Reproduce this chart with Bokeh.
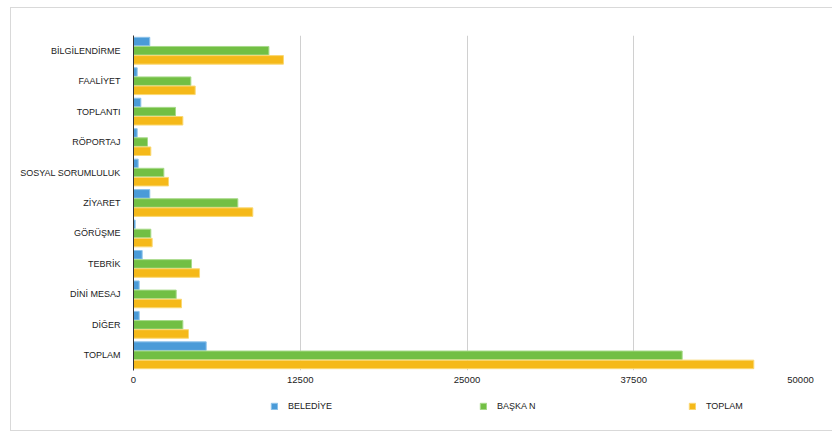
from bokeh.plotting import figure
from bokeh.layouts import column
from bokeh.models import ColumnDataSource, FactorRange, Range1d, FixedTicker, NumeralTickFormatter, Legend, LegendItem
from bokeh.transform import dodge
from bokeh.embed import file_html
from bokeh.resources import INLINE

categories = ["BİLGİLENDİRME", "FAALİYET", "TOPLANTI", "RÖPORTAJ", "SOSYAL SORUMLULUK",
              "ZİYARET", "GÖRÜŞME", "TEBRİK", "DİNİ MESAJ", "DİĞER", "TOPLAM"]
belediye = [1220, 275, 550, 275, 350, 1220, 125, 650, 425, 425, 5450]
baskan = [10150, 4300, 3150, 1050, 2275, 7820, 1300, 4350, 3200, 3700, 41130]
toplam = [11240, 4625, 3700, 1300, 2625, 8945, 1400, 4950, 3600, 4125, 46500]
series_labels = ["BELEDİYE", "BAŞKA N", "TOPLAM"]
x_ticks = [0, 12500, 25000, 37500, 50000]

FONT = "Liberation Sans"
colors = ["#4a9bd8", "#72bf44", "#f5b919"]
edges = ["#8ec3ea", "#a8da8a", "#fad873"]

src = ColumnDataSource(dict(cat=categories, bel=belediye, bas=baskan, top=toplam))

p = figure(y_range=FactorRange(factors=list(reversed(categories))),
           x_range=Range1d(0, 50000),
           frame_width=667, frame_height=335,
           width=830, height=380,
           min_border_left=122, min_border_top=27, min_border_right=41, min_border_bottom=18,
           output_backend="svg", toolbar_location=None)
p.outline_line_color = None
p.background_fill_color = "white"
p.border_fill_color = "white"

h = 0.28
cols = ["bel", "bas", "top"]
offsets = [0.3, 0.0, -0.3]
for c, off, fc, lc in zip(cols, offsets, colors, edges):
    p.hbar(y=dodge("cat", off, range=p.y_range), right=c, left=0, height=h, source=src,
           fill_color=fc, line_color=lc, line_width=1)

p.xaxis.ticker = FixedTicker(ticks=x_ticks)
p.xaxis.formatter = NumeralTickFormatter(format="0")
p.xaxis.axis_line_color = None
p.xaxis.major_tick_line_color = None
p.xaxis.major_tick_out = 0
p.xaxis.major_tick_in = 0
p.xaxis.minor_tick_line_color = None
p.xaxis.minor_tick_out = 0
p.xaxis.major_label_standoff = 6
p.xaxis.major_label_text_font = FONT
p.xaxis.major_label_text_font_size = "9.5px"
p.xaxis.major_label_text_color = "#222222"

p.yaxis.axis_line_color = "#333333"
p.yaxis.axis_line_width = 1
p.yaxis.major_tick_line_color = None
p.yaxis.major_tick_out = 0
p.yaxis.major_tick_in = 0
p.yaxis.minor_tick_line_color = None
p.yaxis.minor_tick_out = 0
p.yaxis.major_label_standoff = 13
p.yaxis.major_label_text_font = FONT
p.yaxis.major_label_text_font_size = "9px"
p.yaxis.major_label_text_color = "#222222"

p.xgrid.grid_line_color = "#d0d0d0"
p.xgrid.ticker = FixedTicker(ticks=x_ticks[1:])
p.ygrid.grid_line_color = None

# legend strip (its placeholder quads lie outside the strip's 0..1 ranges, so only legend swatches show)
lg = figure(width=830, height=42, x_range=Range1d(0, 1), y_range=Range1d(0, 1),
            x_axis_type=None, y_axis_type=None, min_border=0,
            output_backend="svg", toolbar_location=None)
lg.outline_line_color = None
lg.xgrid.visible = False
lg.ygrid.visible = False
items = []
for lab, fc, lc, vals in zip(series_labels, colors, edges, [belediye, baskan, toplam]):
    v = vals[-1]
    r = lg.quad(left=[v], right=[v], top=[v], bottom=[v], fill_color=fc, line_color=lc)
    items.append(LegendItem(label=lab, renderers=[r]))
legend = Legend(items=items, orientation="horizontal", location=(137, 19),
                glyph_width=8, glyph_height=8, label_standoff=10,
                label_width=191, label_height=10, spacing=0, padding=0, margin=0,
                border_line_color=None, background_fill_alpha=0,
                label_text_font=FONT, label_text_font_size="9px",
                label_text_color="#222222")
lg.add_layout(legend, "center")

layout = column(p, lg, spacing=0,
                styles={"position": "absolute", "left": "10px", "top": "7px",
                        "border": "1px solid #d9d9d9", "background": "white"})

open("out.html", "w").write(file_html(layout, INLINE))
